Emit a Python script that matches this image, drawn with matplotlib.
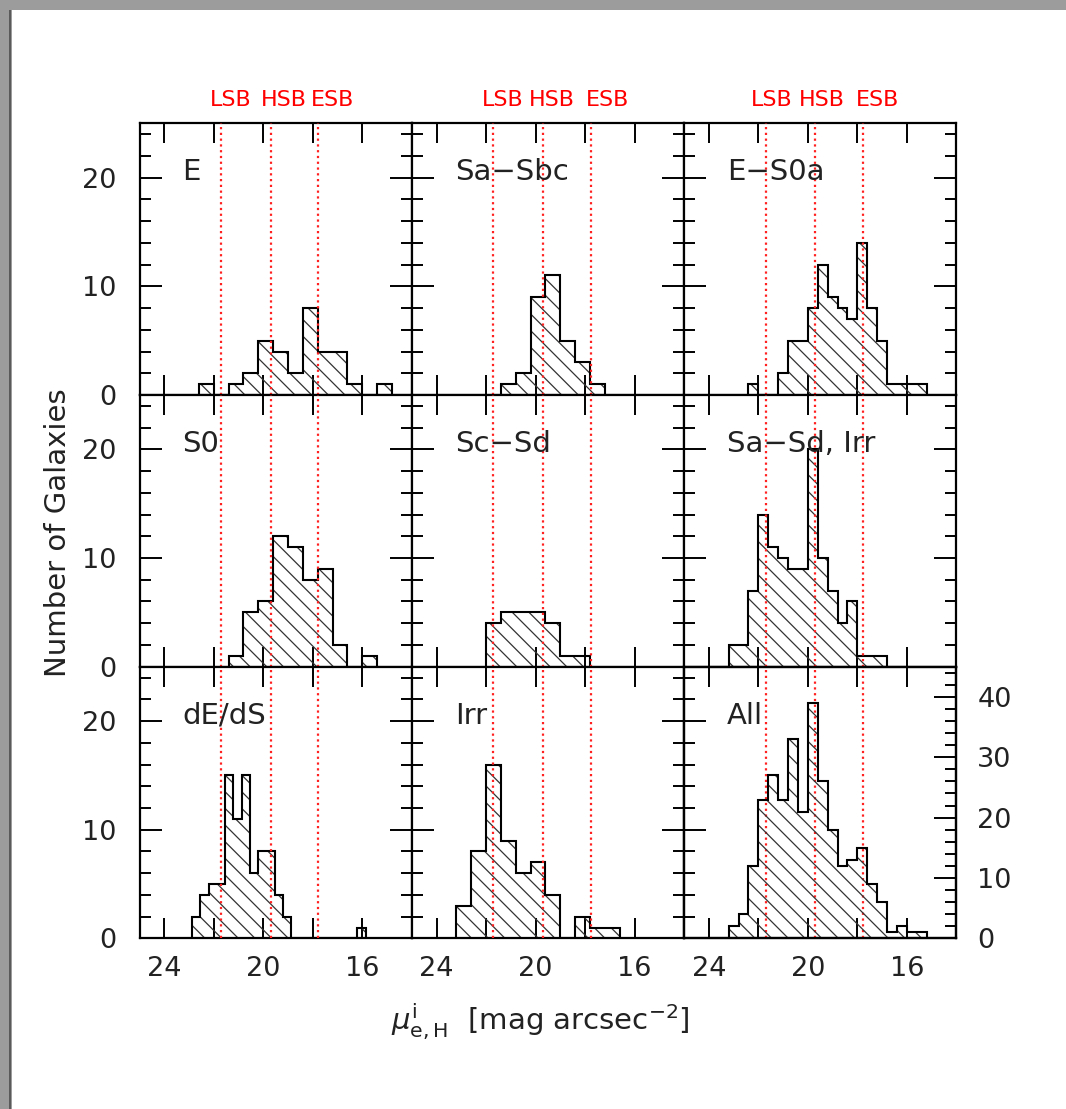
import numpy as np
import matplotlib
matplotlib.use("Agg")
import matplotlib.pyplot as plt
from matplotlib.patches import Rectangle
from matplotlib.ticker import FixedLocator, FuncFormatter

# panel titles, reading order
names = ["E", "Sa\u2212Sbc", "E\u2212S0a",
         "S0", "Sc\u2212Sd", "Sa\u2212Sd, Irr",
         "dE/dS", "Irr", "All"]

# for each panel: faint edge of the first bin, bin width (mag), counts faint -> bright
e_lo, e_w = 22.6, 0.6
e_n = [1, 0, 1, 2, 5, 4, 2, 8, 4, 4, 1, 0, 1]
sab_lo, sab_w = 21.4, 0.6
sab_n = [1, 2, 9, 11, 5, 3, 1]
es0a_lo, es0a_w = 22.4, 0.4
es0a_n = [1, 0, 0, 2, 5, 5, 8, 12, 9, 8, 7, 14, 8, 5, 1, 1, 1, 1]
s0_lo, s0_w = 21.4, 0.6
s0_n = [1, 5, 6, 12, 11, 8, 9, 2, 0, 1]
scd_lo, scd_w = 22.0, 0.6
scd_n = [4, 5, 5, 5, 4, 1, 1]
sirr_lo, sirr_w = 23.2, 0.4
sirr_n = [2, 2, 7, 14, 11, 10, 9, 9, 20, 10, 7, 4, 6, 1, 1, 1]
de_lo, de_w = 22.87, 1.0 / 3.0
de_n = [2, 4, 5, 5, 15, 11, 15, 6, 8, 8, 4, 2, 0, 0, 0, 0, 0, 0, 0, 0, 1]
irr_lo, irr_w = 23.2, 0.6
irr_n = [3, 8, 16, 9, 6, 7, 4, 0, 2, 1, 1]
all_lo, all_w = 23.2, 0.4
all_n = [2, 4, 12, 23, 27, 23, 33, 21, 39, 26, 18, 12, 13, 15, 9, 6, 1, 2, 1, 1]

hists = [(e_lo, e_w, e_n), (sab_lo, sab_w, sab_n), (es0a_lo, es0a_w, es0a_n),
         (s0_lo, s0_w, s0_n), (scd_lo, scd_w, scd_n), (sirr_lo, sirr_w, sirr_n),
         (de_lo, de_w, de_n), (irr_lo, irr_w, irr_n), (all_lo, all_w, all_n)]

# surface brightness limits
sb_names = ["LSB", "HSB", "ESB"]
sb_vals = [21.71, 19.70, 17.78]
# where the red words sit, per column (data x)
sb_text_x = [[21.32, 19.17, 17.20], [21.33, 19.34, 17.11], [21.46, 19.42, 17.20]]

W, H = 1066, 1109
fig = plt.figure(figsize=(W / 100, H / 100), dpi=100)
plt.rcParams['hatch.linewidth'] = 0.9

# grey screenshot frame
fig.patch.set_facecolor('#9c9c9c')
fig.add_artist(Rectangle((12 / W, 0), 1, 1 - 10 / H, transform=fig.transFigure,
                         facecolor='white', edgecolor='none', zorder=-5))
fig.add_artist(Rectangle((9 / W, 0), 2 / W, 1 - 10 / H, transform=fig.transFigure,
                         facecolor='#5a5a5a', edgecolor='none', zorder=-4))

x0, y0 = 139.5, 123.3
pw, ph = 272.3, 271.7
txtc = '#222222'
tfs = 19.5


def style_y(a, ymax, major):
    a.set_ylim(0, ymax)
    a.yaxis.set_major_locator(FixedLocator(major))
    a.yaxis.set_minor_locator(FixedLocator([v for v in range(0, ymax + 1, 2) if v not in major]))


for k in range(9):
    r, c = divmod(k, 3)
    ax = fig.add_axes([(x0 + c * pw) / W, 1 - (y0 + (r + 1) * ph) / H, pw / W, ph / H])
    ax.set_xlim(25, 14)
    style_y(ax, 25, [0, 10, 20])
    ax.xaxis.set_major_locator(FixedLocator([24, 22, 20, 18, 16]))
    ax.xaxis.set_major_formatter(FuncFormatter(
        lambda v, p: "%d" % round(v) if round(v) in (24, 20, 16) else ""))
    for s in ax.spines.values():
        s.set_linewidth(1.6)
    ax.tick_params(which='both', direction='in', top=True, right=(k != 8),
                   width=1.4, colors='black', labelcolor=txtc, labelsize=tfs)
    ax.tick_params(axis='x', which='major', length=14.5, pad=13)
    ax.tick_params(axis='y', which='major', length=16, pad=17)
    ax.tick_params(axis='y', which='minor', length=8)
    ax.tick_params(labelbottom=(r == 2), labelleft=(c == 0))

    lo, w, n = hists[k]
    n = np.array(n)
    edges = lo - w * np.arange(len(n) + 1)
    centers = 0.5 * (edges[:-1] + edges[1:])
    hax = ax
    if k == 8:
        hax = ax.twinx()
        style_y(hax, 45, [0, 10, 20, 30, 40])
        for s in hax.spines.values():
            s.set_linewidth(1.6)
        hax.tick_params(which='both', direction='in', left=False, right=True,
                        width=1.4, labelcolor=txtc, labelsize=tfs)
        hax.tick_params(axis='y', which='major', length=16, pad=15)
        hax.tick_params(axis='y', which='minor', length=8)
    hax.bar(centers, n, width=w, fill=False, hatch='\\\\', edgecolor='#333333',
            linewidth=0, zorder=2)
    hax.stairs(n, edges, color='black', linewidth=1.5, zorder=3)

    for v in sb_vals:
        ax.axvline(v, color='#ff2020', linestyle=(0, (1.0, 1.6)), linewidth=1.6, zorder=4)

    ax.text(0.158, 0.82, names[k], transform=ax.transAxes, ha='left', va='center',
            fontsize=21, color=txtc, zorder=5)

    if r == 0:
        for lab, xv in zip(sb_names, sb_text_x[c]):
            ax.text(xv, 1.086, lab, transform=ax.get_xaxis_transform(), ha='center',
                    va='center', fontsize=16, color='red',
                    family=['Liberation Sans Narrow', 'DejaVu Sans'])

fig.text(58 / W, 1 - 533 / H, "Number of Galaxies", rotation=90, ha='center',
         va='center', fontsize=21, color=txtc)
fig.text(540 / W, 1 - 1022 / H, r"$\mu^{\rm i}_{\rm e,H}$  [mag arcsec$^{-2}$]",
         ha='center', va='center', fontsize=21, color=txtc)

fig.savefig("out.png", dpi=100)
